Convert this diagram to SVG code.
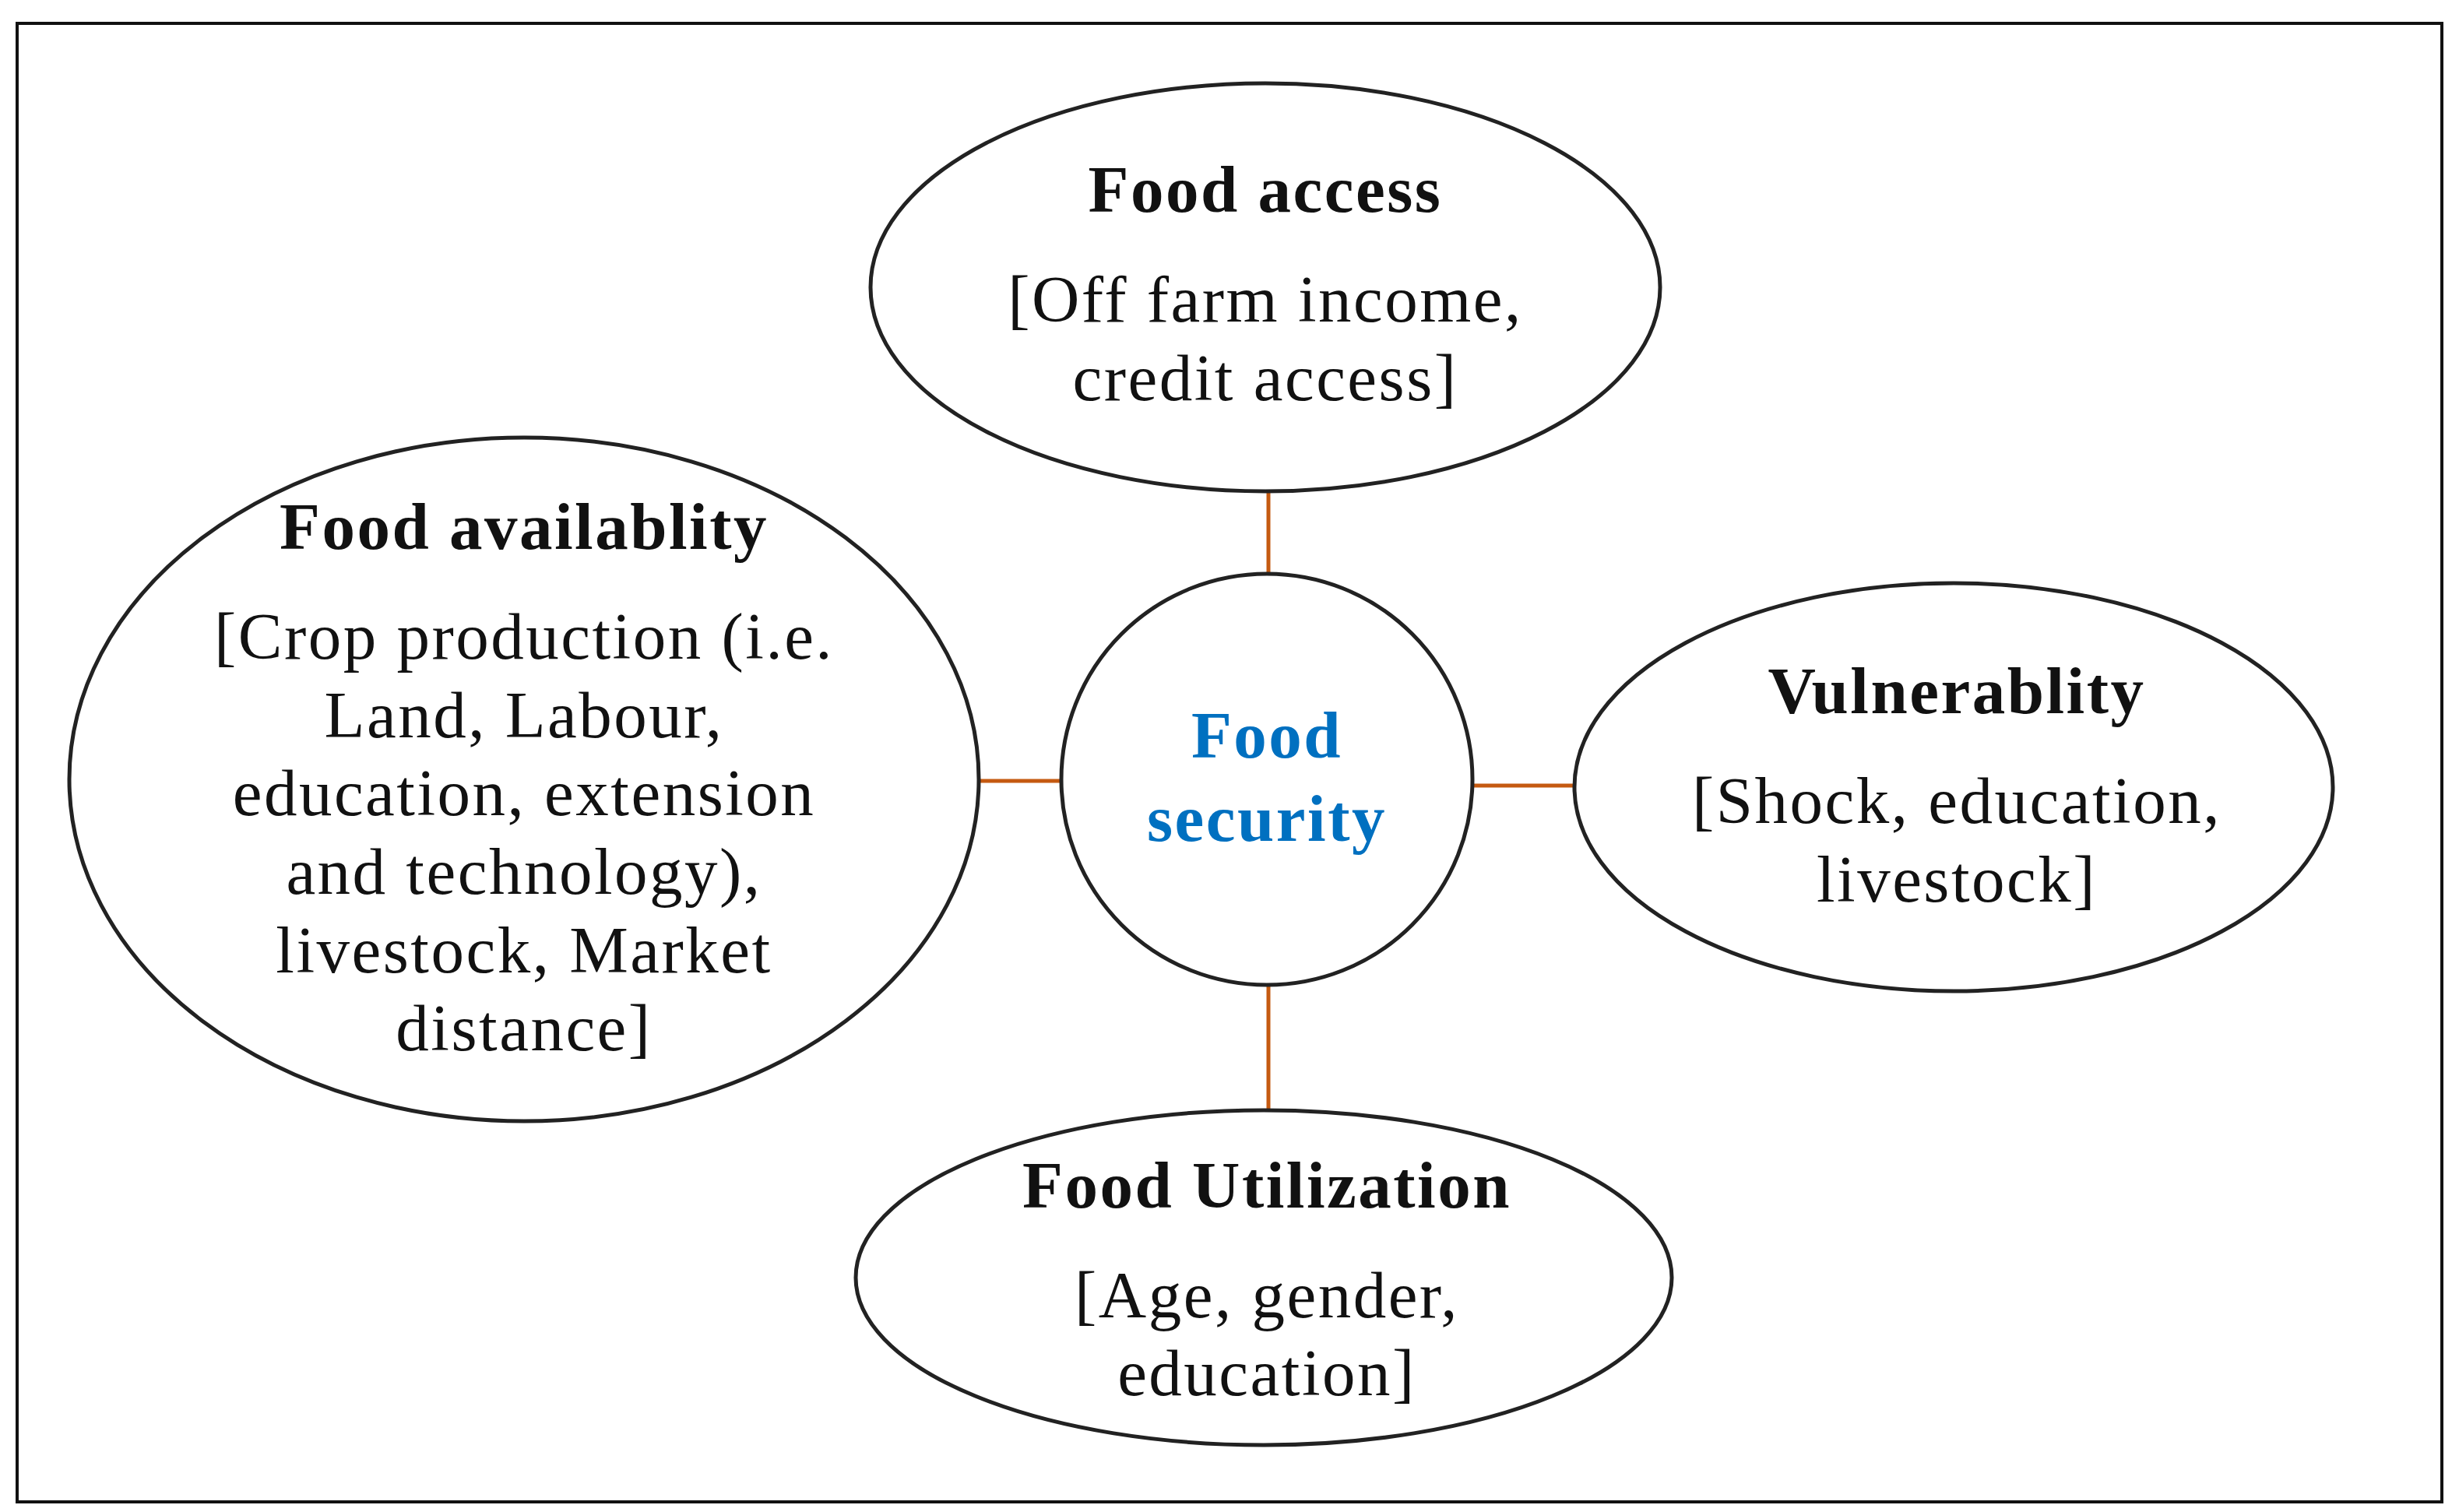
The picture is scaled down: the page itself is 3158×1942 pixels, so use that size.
<svg xmlns="http://www.w3.org/2000/svg" width="3158" height="1942" viewBox="0 0 3158 1942">
<style>
.sh{fill:#fff;stroke:#222;stroke-width:5}
.t{font-family:"Liberation Serif",serif;font-size:85px;letter-spacing:2.5px;fill:#111;text-anchor:middle}
.b{font-weight:bold}
.c{stroke:#C55A11;stroke-width:5}
</style>
<rect x="0" y="0" width="3158" height="1942" fill="#fff"/>
<rect x="22" y="30" width="3114" height="1899" fill="none" stroke="#111" stroke-width="4"/>
<g id="connectors">
<line class="c" x1="1629" y1="630" x2="1629" y2="741"/>
<line class="c" x1="1629" y1="1265" x2="1629" y2="1430"/>
<line class="c" x1="1253" y1="1003" x2="1364" y2="1003"/>
<line class="c" x1="1889" y1="1009" x2="2022" y2="1009"/>
</g>
<g id="access"><ellipse class="sh" cx="1625" cy="369" rx="507" ry="262"/>
<text class="t b" x="1625" y="272">Food access</text>
<text class="t" x="1625" y="413">[Off farm income,</text>
<text class="t" x="1625" y="514">credit access]</text></g>
<g id="availability"><ellipse class="sh" cx="673" cy="1001" rx="584" ry="439"/>
<text class="t b" x="673" y="705">Food availablity</text>
<text class="t" x="673" y="846">[Crop production (i.e.</text>
<text class="t" x="673" y="947">Land, Labour,</text>
<text class="t" x="673" y="1047">education, extension</text>
<text class="t" x="673" y="1148">and technology),</text>
<text class="t" x="673" y="1249">livestock, Market</text>
<text class="t" x="673" y="1349">distance]</text></g>
<g id="security"><circle class="sh" cx="1627" cy="1001" r="264"/>
<text class="t b" x="1627" y="973" style="fill:#0070C0">Food</text>
<text class="t b" x="1627" y="1080" style="fill:#0070C0">security</text></g>
<g id="vulnerability"><ellipse class="sh" cx="2509" cy="1011" rx="487" ry="262"/>
<text class="t b" x="2513" y="916">Vulnerablity</text>
<text class="t" x="2513" y="1057">[Shock, education,</text>
<text class="t" x="2513" y="1158">livestock]</text></g>
<g id="utilization"><ellipse class="sh" cx="1623" cy="1641" rx="524" ry="215"/>
<text class="t b" x="1627" y="1551">Food Utilization</text>
<text class="t" x="1627" y="1692">[Age, gender,</text>
<text class="t" x="1627" y="1792">education]</text></g>
</svg>
